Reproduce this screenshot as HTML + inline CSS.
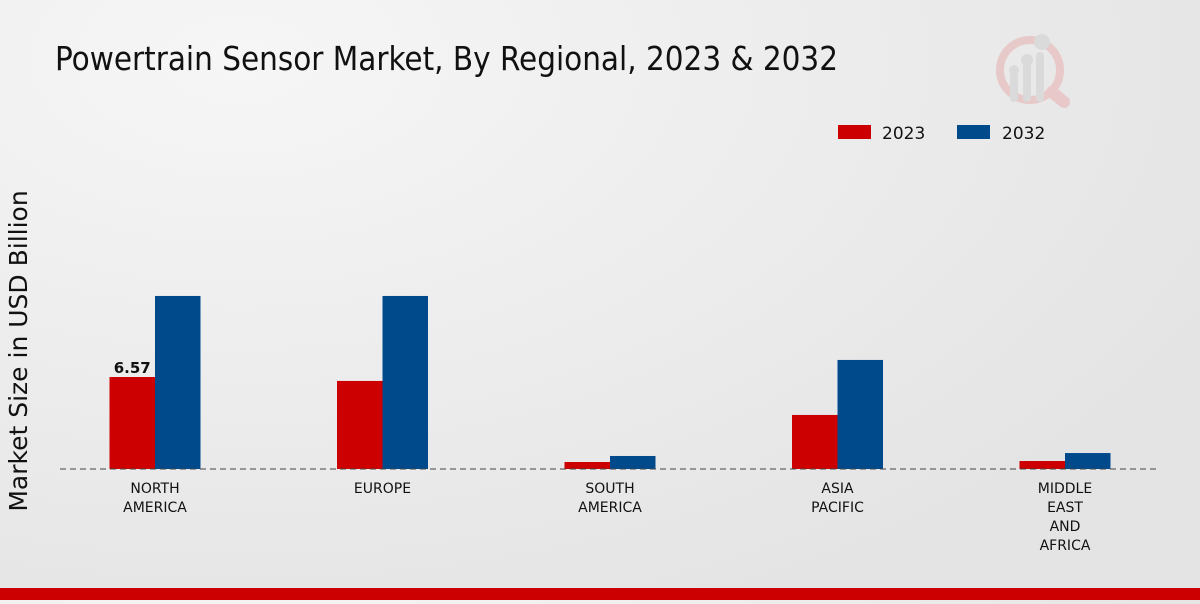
<!DOCTYPE html>
<html><head><meta charset="utf-8"><style>
body{margin:0;width:1200px;height:600px;overflow:hidden;background:radial-gradient(ellipse at 20% 10%,#f6f6f6,#e4e4e4 80%);font-family:"DejaVu Sans","Liberation Sans",sans-serif}
</style></head><body>
<svg width="1200" height="600">
<text x="55" y="70" font-family="'DejaVu Sans Condensed','Liberation Sans Narrow','Liberation Sans',sans-serif" font-size="33" fill="#111" textLength="783" lengthAdjust="spacingAndGlyphs">Powertrain Sensor Market, By Regional, 2023 &amp; 2032</text>
<g opacity="0.5">
<circle cx="1030" cy="70" r="30" fill="none" stroke="#e8aaaa" stroke-width="8"/>
<line x1="1052" y1="92" x2="1064" y2="102" stroke="#e8aaaa" stroke-width="12" stroke-linecap="round"/>
<rect x="1010" y="72" width="8" height="30" rx="4" fill="#ccc"/><rect x="1023" y="62" width="8" height="40" rx="4" fill="#ccc"/><rect x="1036" y="52" width="8" height="50" rx="4" fill="#ccc"/>
<circle cx="1014" cy="70" r="5" fill="#ccc"/><circle cx="1027" cy="60" r="6" fill="#ccc"/><circle cx="1042" cy="42" r="8" fill="#ccc"/>
</g>
<g>
<rect x="838" y="125" width="33" height="14" fill="#cc0000"/>
<text x="882" y="139" font-size="17" fill="#111">2023</text>
<rect x="957" y="125" width="33" height="14" fill="#004a8c"/>
<text x="1002" y="139" font-size="17" fill="#111">2032</text>
</g>
<text transform="translate(27,351) rotate(-90)" text-anchor="middle" font-size="25" fill="#111">Market Size in USD Billion</text>
<g id="plot"></g>
<rect x="0" y="588" width="1200" height="12" fill="#cc0000"/>
</svg>
<script>
const categories=[["NORTH","AMERICA"],["EUROPE"],["SOUTH","AMERICA"],["ASIA","PACIFIC"],["MIDDLE","EAST","AND","AFRICA"]];
const values2023=[6.57,6.29,0.5,3.86,0.57];
const values2032=[12.36,12.36,0.93,7.79,1.14];
const labels2023=["6.57","","","",""];
const NS="http://www.w3.org/2000/svg";
const g=document.getElementById('plot');
const base=469,scale=14.0,x0=155,step=227.5,bw=45.5;
const yS=v=>base-v*scale, xS=i=>x0+i*step;
function mk(t,a){const e=document.createElementNS(NS,t);for(const k in a)e.setAttribute(k,a[k]);g.appendChild(e);return e;}
categories.forEach((c,i)=>{
 const cx=xS(i);
 let r=mk('rect',{x:cx-bw,y:yS(values2023[i]),width:bw,height:values2023[i]*scale,fill:'#cc0000'});
 
 
 let b=mk('rect',{x:cx,y:yS(values2032[i]),width:bw,height:values2032[i]*scale,fill:'#004a8c'});
 
 
 if(labels2023[i]){let t=mk('text',{x:cx-bw/2,y:yS(values2023[i])-4,'text-anchor':'middle','font-size':15,'font-weight':'bold',fill:'#111'});t.textContent=labels2023[i];
 
 }
 c.forEach((line,j)=>{let t=mk('text',{x:cx,y:493+j*19,'text-anchor':'middle','font-size':14,fill:'#111'});t.textContent=line;
 
 });
});
const ax=mk('line',{x1:60,x2:1160,y1:base,y2:base,stroke:'#444','stroke-dasharray':'6,4'});


</script>
</body></html>
